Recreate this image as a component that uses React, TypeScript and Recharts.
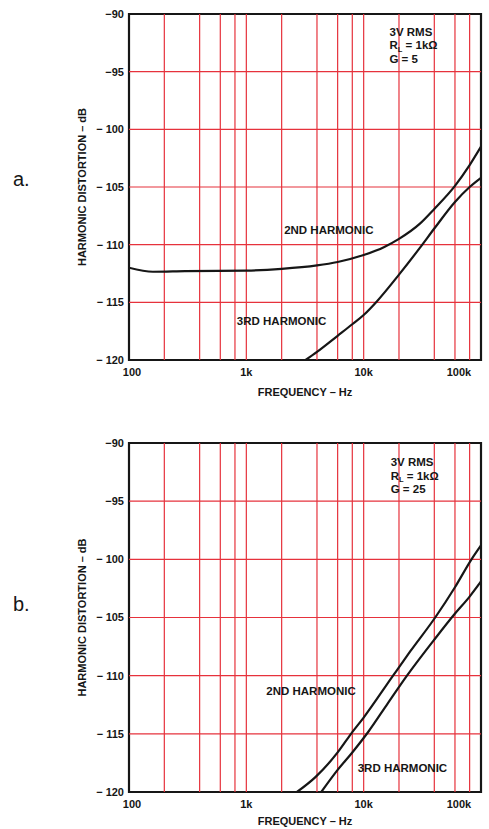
import React from "react";
import {
  LineChart,
  Line,
  XAxis,
  YAxis,
  ReferenceLine,
  ReferenceArea,
  ReferenceDot,
  Label,
} from "recharts";

const FREQ_TICKS = [100, 1000, 10000, 100000];
const FREQ_TICK_LABELS = ["100", "1k", "10k", "100k"];
const GRID_FREQS = [200, 400, 600, 800, 1000, 2000, 4000, 6000, 8000, 10000, 20000, 40000, 60000, 80000];
const DB_TICKS = [-120, -115, -110, -105, -100, -95, -90];
const GRID_DBS = [-115, -110, -105, -100, -95];

// panel a, G = 5
const A_2ND_FREQ = [100, 160, 300, 1000, 2000, 4000, 6000, 10000, 15000, 20000, 30000, 40000, 60000, 80000, 100000];
const A_2ND_DB = [-112.0, -112.35, -112.3, -112.25, -112.1, -111.8, -111.5, -110.9, -110.2, -109.5, -108.2, -106.9, -104.9, -103.1, -101.5];
const A_3RD_FREQ = [3200, 4000, 6000, 8000, 10000, 13000, 20000, 30000, 40000, 60000, 80000, 100000];
const A_3RD_DB = [-120, -119.3, -117.9, -116.9, -116.1, -114.9, -112.6, -110.3, -108.6, -106.3, -105.0, -104.2];

// panel b, G = 25
const B_2ND_FREQ = [2700, 3900, 6000, 7800, 10000, 17800, 25000, 40700, 60000, 83000, 100000];
const B_2ND_DB = [-120, -118.7, -116.6, -115.0, -113.6, -110.0, -107.9, -105.0, -102.4, -100.0, -98.8];
const B_3RD_FREQ = [4350, 6000, 8000, 11000, 16000, 23400, 40000, 59600, 80000, 100000];
const B_3RD_DB = [-120, -118.1, -116.6, -114.8, -112.4, -110.0, -106.9, -104.7, -103.2, -101.9];

const RED = "#e6323c";
const INK = "#161616";
const FONT = "'Liberation Sans', Arial, sans-serif";

const toPoints = (freqs: number[], dbs: number[]) => freqs.map((f, i) => ({ f, db: dbs[i] }));

const FreqTick = (props: any) => {
  const { x, y, payload } = props;
  const i = FREQ_TICKS.indexOf(payload.value);
  const shift = payload.value === 100000 ? -6 : payload.value === 100 ? 3 : 0;
  return (
    <text x={x + shift} y={y} dy={10} textAnchor="middle" fontFamily={FONT} fontWeight={700} fontSize={11} fill={INK}>
      {FREQ_TICK_LABELS[i]}
    </text>
  );
};

const dbLabel = (v: number) => (v <= -100 ? `− ${Math.abs(v)}` : `−${Math.abs(v)}`);

const textAt = (label: string) => (p: any) => (
  <text x={p.cx} y={p.cy} dominantBaseline="central" fontFamily={FONT} fontWeight={700} fontSize={11.5} fill={INK}>
    {label}
  </text>
);

const notesAt = (gain: string) => (p: any) => (
  <text x={p.cx} y={p.cy} fontFamily={FONT} fontWeight={700} fontSize={11.5} fill={INK}>
    <tspan x={p.cx} dy={0}>3V RMS</tspan>
    <tspan x={p.cx} dy={13.5}>R</tspan>
    <tspan dy={2.5} fontSize={7.5}>L</tspan>
    <tspan dy={-2.5}> = 1kΩ</tspan>
    <tspan x={p.cx} dy={13.5}>G = {gain}</tspan>
  </text>
);

const yTitle = (p: any) => {
  const vb = p.viewBox || { x: 0, y: 0, width: 129, height: 346 };
  const cx = vb.x + 82;
  const cy = vb.y + vb.height / 2;
  return (
    <text x={cx} y={cy} transform={`rotate(-90 ${cx} ${cy})`} textAnchor="middle" dominantBaseline="central"
      fontFamily={FONT} fontWeight={700} fontSize={11} fill={INK}>
      HARMONIC DISTORTION – dB
    </text>
  );
};

interface PanelProps {
  tag: string;
  tagTop: number;
  gain: string;
  top: number;
  axisHeight: number;
  second: { f: number; db: number }[];
  third: { f: number; db: number }[];
  secondAt: [number, number];
  thirdAt: [number, number];
  notesAtPos: [number, number];
}

function Panel({ tag, tagTop, gain, top, axisHeight, second, third, secondAt, thirdAt, notesAtPos }: PanelProps) {
  return (
    <div style={{ position: "absolute", left: 0, top, width: 489, height: 400 }}>
      <span style={{ position: "absolute", left: 13, top: tagTop, fontFamily: FONT, fontSize: 20, color: INK }}>
        {tag}
      </span>
      <LineChart width={489} height={400} margin={{ top: 14, right: 8, bottom: 0, left: 0 }}>
        <XAxis
          dataKey="f"
          type="number"
          scale="log"
          domain={[100, 100000]}
          ticks={FREQ_TICKS}
          allowDataOverflow
          height={axisHeight}
          axisLine={false}
          tickLine={false}
          tickSize={4}
          tick={<FreqTick />}
        >
          <Label value="FREQUENCY – Hz" position="insideBottom" offset={4}
            style={{ fontFamily: FONT, fontWeight: 700, fontSize: 11, fill: INK }} />
        </XAxis>
        <YAxis
          dataKey="db"
          type="number"
          domain={[-120, -90]}
          ticks={DB_TICKS}
          allowDataOverflow
          width={129}
          axisLine={false}
          tickLine={false}
          tickSize={3}
          tickFormatter={dbLabel}
          tick={{ fontFamily: FONT, fontWeight: 700, fontSize: 11, fill: INK }}
        >
          <Label content={yTitle} />
        </YAxis>
        {GRID_FREQS.map((f) => (
          <ReferenceLine key={`v${f}`} x={f} stroke={RED} strokeWidth={1.2} />
        ))}
        {GRID_DBS.map((d) => (
          <ReferenceLine key={`h${d}`} y={d} stroke={RED} strokeWidth={1.2} />
        ))}
        <ReferenceArea x1={100} x2={100000} y1={-120} y2={-90} fill="none" stroke={INK} strokeWidth={2.2} />
        <Line data={second} dataKey="db" type="monotone" stroke={INK} strokeWidth={2.2} dot={false} isAnimationActive={false} />
        <Line data={third} dataKey="db" type="monotone" stroke={INK} strokeWidth={2.2} dot={false} isAnimationActive={false} />
        <ReferenceDot x={secondAt[0]} y={secondAt[1]} r={0} shape={textAt("2ND HARMONIC")} />
        <ReferenceDot x={thirdAt[0]} y={thirdAt[1]} r={0} shape={textAt("3RD HARMONIC")} />
        <ReferenceDot x={notesAtPos[0]} y={notesAtPos[1]} r={0} shape={notesAt(gain)} />
      </LineChart>
    </div>
  );
}

export default function App() {
  return (
    <div style={{ position: "absolute", left: 0, top: 0, width: 489, height: 829, background: "#fff" }}>
      <Panel
        tag="a."
        tagTop={168}
        gain="5"
        top={0}
        axisHeight={40}
        second={toPoints(A_2ND_FREQ, A_2ND_DB)}
        third={toPoints(A_3RD_FREQ, A_3RD_DB)}
        secondAt={[2100, -108.7]}
        thirdAt={[830, -116.6]}
        notesAtPos={[16600, -91.9]}
      />
      <Panel
        tag="b."
        tagTop={164}
        gain="25"
        top={429}
        axisHeight={37}
        second={toPoints(B_2ND_FREQ, B_2ND_DB)}
        third={toPoints(B_3RD_FREQ, B_3RD_DB)}
        secondAt={[1480, -111.3]}
        thirdAt={[8900, -117.9]}
        notesAtPos={[17000, -92.0]}
      />
    </div>
  );
}
